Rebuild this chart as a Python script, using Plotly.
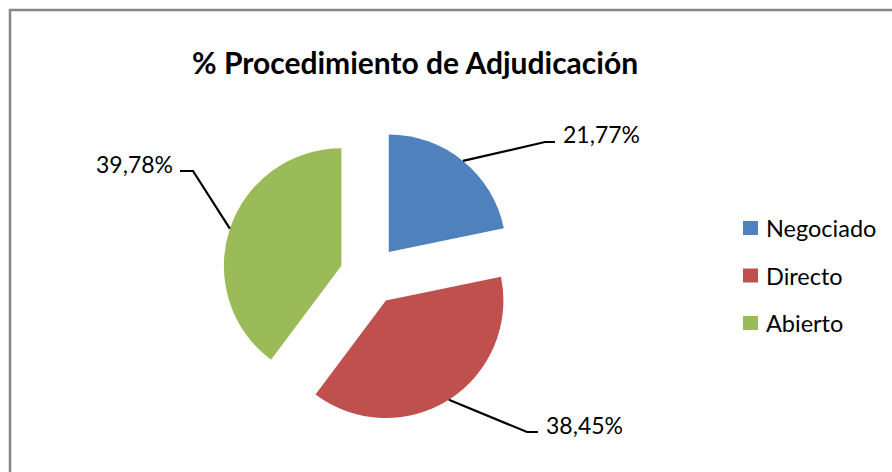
import math
import plotly.graph_objects as go

# ---- data ----
categories = ["Negociado", "Directo", "Abierto"]
values = [21.77, 38.45, 39.78]
value_labels = ["21,77%", "38,45%", "39,78%"]
title_text = "% Procedimiento de Adjudicación"

# ---- style / layout constants ----
colors = ["#4F81BD", "#C0504D", "#9BBB59"]
W, H = 892, 472
PULL = 0.255
DOM_X = [0.2492, 0.5800]
DOM_Y = [0.1045, 0.7294]
FONT = "Lato"
# leader-line elbows, line ends and label anchors (pixels)
elbows = [(545, 142), (527, 432), (193, 171)]
line_ends = [(555, 142), (538, 432), (180, 171)]
label_anchor = [(561, 134, "left"), (544, 425, "left"), (175, 164, "right")]
legend_x = 743
legend_y = [228, 275.5, 323]


def px(x):
    return x / W


def py(y):
    return 1 - y / H


fig = go.Figure(
    go.Pie(
        labels=categories,
        values=values,
        marker=dict(colors=colors, line=dict(width=0)),
        pull=[PULL] * len(values),
        sort=False,
        direction="clockwise",
        rotation=0,
        textinfo="none",
        hoverinfo="label+percent",
        domain=dict(x=DOM_X, y=DOM_Y),
        showlegend=False,
    )
)

# geometry derived from domain (same as plotly's own pie scaling)
cx = (DOM_X[0] + DOM_X[1]) / 2 * W
cy = (1 - (DOM_Y[0] + DOM_Y[1]) / 2) * H
half = min((DOM_X[1] - DOM_X[0]) * W, (DOM_Y[1] - DOM_Y[0]) * H) / 2
total = sum(values)

shapes = []
annotations = []
cum = 0.0
for i, v in enumerate(values):
    mid = (cum + v / 2) / total * 2 * math.pi
    cum += v
    sx = cx + half * math.sin(mid)
    sy = cy - half * math.cos(mid)
    ex, ey = elbows[i]
    lx, ly = line_ends[i]
    shapes.append(dict(type="path", xref="paper", yref="paper",
                       path=f"M {px(sx)},{py(sy)} L {px(ex)},{py(ey)} L {px(lx)},{py(ly)}",
                       line=dict(color="black", width=2.2)))
    ax, ay, anc = label_anchor[i]
    annotations.append(dict(x=px(ax), y=py(ay), xref="paper", yref="paper",
                            text=value_labels[i], showarrow=False,
                            xanchor=anc, yanchor="middle",
                            font=dict(family=FONT, size=23, color="black")))

# legend drawn by hand
for i, c in enumerate(categories):
    yc = legend_y[i]
    shapes.append(dict(type="rect", xref="paper", yref="paper",
                       x0=px(legend_x), x1=px(legend_x + 15),
                       y0=py(yc + 7), y1=py(yc - 7),
                       fillcolor=colors[i], line=dict(width=0)))
    annotations.append(dict(x=px(legend_x + 21), y=py(yc), xref="paper", yref="paper",
                            text=c, showarrow=False, xanchor="left", yanchor="middle",
                            font=dict(family=FONT, size=23.5, color="black")))

# chart border (left and top edges visible)
shapes.append(dict(type="path", xref="paper", yref="paper",
                   path=f"M {px(10)},-0.1 L {px(10)},{py(10)} L 1.1,{py(10)}",
                   line=dict(color="#868686", width=2.5)))

annotations.append(dict(x=px(415), y=py(62), xref="paper", yref="paper",
                        text=f"<b>{title_text}</b>", showarrow=False,
                        xanchor="center", yanchor="middle",
                        font=dict(family=FONT, size=30, color="black")))

fig.update_layout(
    width=W, height=H,
    margin=dict(l=0, r=0, t=0, b=0),
    paper_bgcolor="white",
    plot_bgcolor="white",
    shapes=shapes,
    annotations=annotations,
    showlegend=False,
)

fig.write_html(
    "out.html",
    config={"displayModeBar": False},
    post_script="document.body.style.margin='0';document.body.style.overflow='hidden';",
)
